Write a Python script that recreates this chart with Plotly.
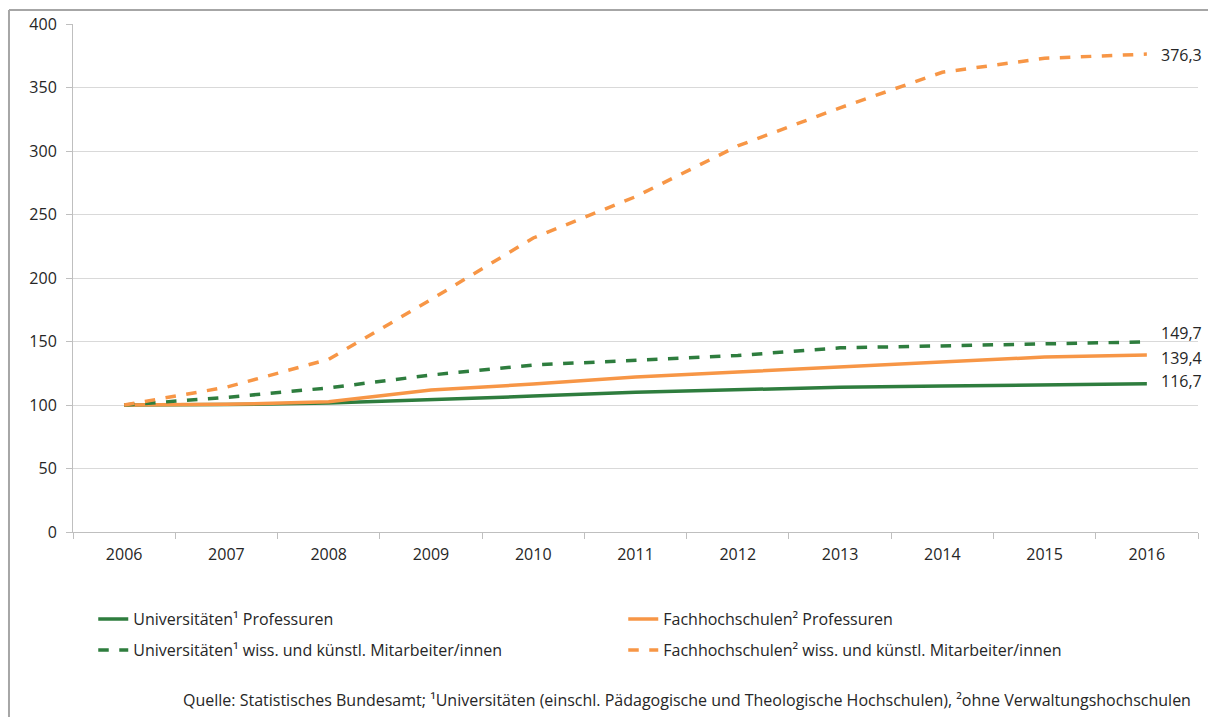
import plotly.graph_objects as go

# Index 2006 = 100
years = ["2006", "2007", "2008", "2009", "2010", "2011", "2012", "2013", "2014", "2015", "2016"]
uni_prof = [100, 100.3, 101.5, 104, 107, 110, 111.8, 114, 115, 115.8, 116.7]
fh_prof = [100, 100.5, 102.5, 111.8, 116.5, 122, 126, 130, 134, 137.8, 139.4]
uni_wiss = [100, 106, 113.5, 123.6, 131.5, 135.4, 139, 145, 146.5, 148, 149.7]
fh_wiss = [100, 114, 136, 183, 231.5, 264, 304, 334, 362, 373, 376.3]

series_names = [
    "Universitäten¹ Professuren",
    "Fachhochschulen² Professuren",
    "Universitäten¹ wiss. und künstl. Mitarbeiter/innen",
    "Fachhochschulen² wiss. und künstl. Mitarbeiter/innen",
]
end_labels = ["116,7", "139,4", "149,7", "376,3"]
source_text = ("Quelle: Statistisches Bundesamt; ¹Universitäten (einschl. Pädagogische und "
               "Theologische Hochschulen), ²ohne Verwaltungshochschulen")

GREEN = "#2E7D3E"
ORANGE = "#F79646"
TEXT = "#262626"
FONT = "Open Sans"

series = [
    (uni_prof, GREEN, "solid", "legend"),
    (fh_prof, ORANGE, "solid", "legend"),
    (uni_wiss, GREEN, "dash", "legend2"),
    (fh_wiss, ORANGE, "dash", "legend2"),
]
# vertical nudges (px) so the end labels don't collide
label_shift = [3, -3, 9, -1]

fig = go.Figure()
for (vals, color, dash, leg), name in zip(series, series_names):
    fig.add_trace(go.Scatter(
        x=years, y=vals, name=name, mode="lines", legend=leg,
        line=dict(color=color, width=3.5, dash=dash),
    ))

# value labels at the last year
last = len(years) - 1
for (vals, _, _, _), lab, ys in zip(series, end_labels, label_shift):
    fig.add_annotation(
        x=last, y=vals[-1], text=lab, showarrow=False,
        xanchor="left", yanchor="middle", xshift=12, yshift=ys,
        font=dict(family=FONT, size=16, color=TEXT),
    )

# source note
fig.add_annotation(
    x=0.9955, y=-0.331, xref="paper", yref="paper", text=source_text, showarrow=False,
    xanchor="right", yanchor="middle",
    font=dict(family="Liberation Sans Narrow, " + FONT, size=16, color=TEXT),
)

# chart frame (left and top edges)
frame = dict(color="#a6a6a6", width=2)
fig.add_shape(type="line", xref="paper", yref="paper",
              x0=-0.0569, x1=-0.0569, y0=1.0276, y1=-0.5, line=frame)
fig.add_shape(type="line", xref="paper", yref="paper",
              x0=-0.0569, x1=1.02, y0=1.0276, y1=1.0276, line=frame)

leg_common = dict(
    orientation="h", xanchor="left", yanchor="top",
    entrywidth=485, entrywidthmode="pixels",
    font=dict(family=FONT, size=16, color=TEXT),
    bgcolor="rgba(0,0,0,0)",
)

fig.update_layout(
    width=1208, height=717,
    margin=dict(l=73, r=10, t=24, b=185),
    paper_bgcolor="white", plot_bgcolor="white",
    separators=",.",
    showlegend=True,
    legend=dict(x=0.018, y=-0.138, **leg_common),
    legend2=dict(x=0.018, y=-0.199, **leg_common),
    xaxis=dict(
        type="category", tickson="boundaries", ticks="outside", ticklen=6,
        tickcolor="#bfbfbf", showline=True, linecolor="#bfbfbf", linewidth=1,
        showgrid=False, range=[-0.5, 10.5], ticklabelstandoff=8,
        tickfont=dict(family=FONT, size=16, color=TEXT),
    ),
    yaxis=dict(
        range=[0, 400], dtick=50, ticks="outside", ticklen=6, tickcolor="#bfbfbf",
        showline=True, linecolor="#bfbfbf", linewidth=1,
        showgrid=True, gridcolor="#d9d9d9", gridwidth=1, zeroline=False,
        ticklabelstandoff=6,
        tickfont=dict(family=FONT, size=16, color=TEXT),
    ),
)

fig.write_html("out.html")
